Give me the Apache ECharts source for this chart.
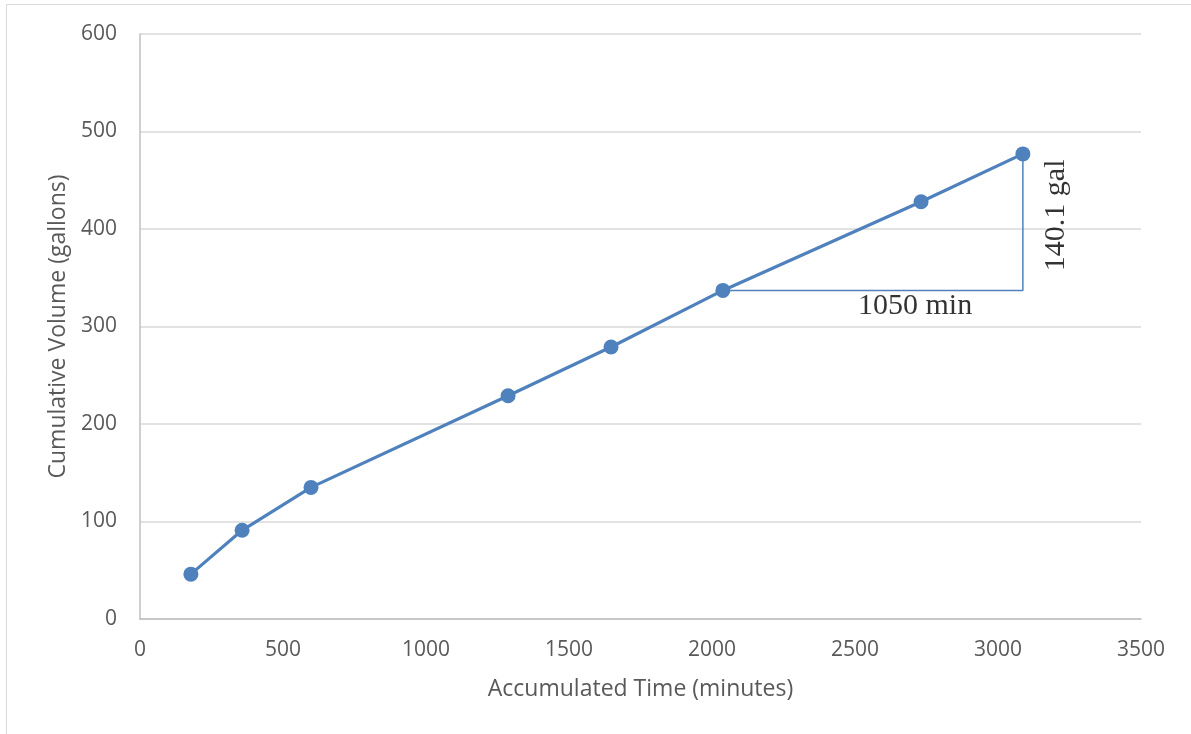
<!DOCTYPE html>
<html>
<head>
<meta charset="utf-8">
<script src="https://cdn.jsdelivr.net/npm/echarts@6/dist/echarts.min.js"></script>
<style>html,body{margin:0;padding:0;background:#fff}#c{width:1191px;height:734px}</style>
</head>
<body>
<div id="c"></div>
<script>
const times = [178, 357, 598, 1287, 1647, 2038, 2731, 3087];
const volumes = [46, 91, 135, 229, 279, 337, 428, 477];
const xTicks = [0, 500, 1000, 1500, 2000, 2500, 3000, 3500];
const yTicks = [0, 100, 200, 300, 400, 500, 600];
const runLabel = '1050 min';
const riseLabel = '140.1 gal';

const chart = echarts.init(document.getElementById('c'));
const iA = 5, iB = 7;
const tri = [[times[iA], volumes[iA]], [times[iB], volumes[iA]], [times[iB], volumes[iB]]];
const runPos = [2710, volumes[iA]];
const risePos = [3203, 414];
const sans = 'Open Sans';
const serif = 'Liberation Serif';
chart.setOption({
  animation: false,
  graphic: [{type: 'rect', shape: {x: 6.5, y: 4.5, width: 1300, height: 900}, style: {fill: 'none', stroke: '#d9d9d9', lineWidth: 1}, z: -1}],
  grid: {left: 140, right: 50, top: 34, bottom: 115},
  xAxis: {
    type: 'value', min: 0, max: 3500, interval: 500,
    name: 'Accumulated Time (minutes)', nameLocation: 'middle', nameGap: 59,
    nameTextStyle: {fontFamily: sans, fontSize: 23, color: '#595959'},
    axisLine: {show: true, lineStyle: {color: '#bfbfbf', width: 1.5}},
    axisTick: {show: false},
    splitLine: {show: false},
    axisLabel: {fontFamily: sans, fontSize: 21, color: '#595959', margin: 21,
      formatter: v => xTicks.includes(v) ? String(v) : ''}
  },
  yAxis: {
    type: 'value', min: 0, max: 600, interval: 100,
    name: 'Cumulative Volume (gallons)', nameLocation: 'middle', nameGap: 69,
    nameTextStyle: {fontFamily: sans, fontSize: 23, color: '#595959'},
    axisLine: {show: true, lineStyle: {color: '#bfbfbf', width: 1.5}},
    axisTick: {show: false},
    splitLine: {show: true, lineStyle: {color: '#d9d9d9', width: 1.5}},
    axisLabel: {fontFamily: sans, fontSize: 21, color: '#595959', margin: 23,
      formatter: v => yTicks.includes(v) ? String(v) : ''}
  },
  series: [
    {
      type: 'line', data: tri, symbol: 'none', z: 1,
      lineStyle: {color: '#4f81bd', width: 1.5}
    },
    {
      type: 'line', data: times.map((t, i) => [t, volumes[i]]),
      symbol: 'circle', symbolSize: 15, z: 3,
      itemStyle: {color: '#4f81bd'},
      lineStyle: {color: '#4f81bd', width: 3.2}
    },
    {
      type: 'scatter', symbolSize: 0, z: 4, silent: true,
      data: [
        {value: runPos, label: {show: true, formatter: runLabel, position: 'bottom', distance: 1,
          fontFamily: serif, fontSize: 30, color: '#000'}},
        {value: risePos, label: {show: true, formatter: riseLabel, position: 'inside', rotate: 90,
          fontFamily: serif, fontSize: 30, color: '#000'}}
      ]
    }
  ]
});
</script>
</body>
</html>
